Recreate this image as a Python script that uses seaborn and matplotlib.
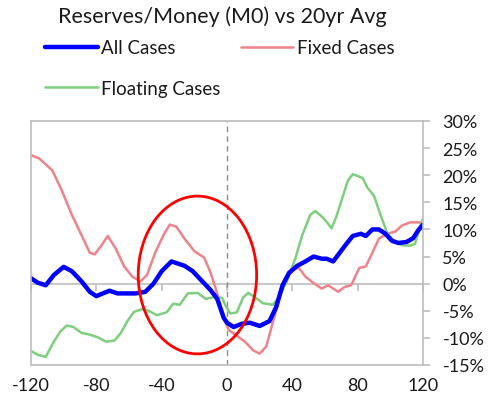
import numpy as np
import pandas as pd
import matplotlib
matplotlib.use("Agg")
import matplotlib.pyplot as plt
from matplotlib.patches import Ellipse
from matplotlib.ticker import FuncFormatter, FixedLocator
import seaborn as sns

# ---- data (months relative to event, % deviation vs 20yr avg) ----
fixed_x = [-120, -115, -107, -101, -95, -89, -84, -81, -77, -73, -68, -63, -58, -53, -49, -44,
           -39, -35, -31, -26, -20, -14, -10, -6, -2, 1, 5, 11, 16, 20, 24, 30, 35, 40, 44, 48,
           53, 58, 62, 68, 72, 76, 81, 85, 89, 93, 98, 103, 107, 112, 118, 120]
fixed_y = [23.7, 23.1, 20.9, 17.1, 12.7, 8.9, 5.7, 5.4, 7.0, 8.8, 6.4, 3.2, 1.3, 0.4, 1.6, 5.7,
           8.9, 10.9, 10.5, 8.3, 6.0, 4.8, 2.0, -1.8, -6.3, -8.5, -9.4, -10.7, -12.3, -12.9, -11.6,
           -5.0, 0.7, 2.6, 2.9, 1.3, 0.1, -0.9, -0.3, -1.5, -0.6, -0.3, 2.9, 3.2, 5.7, 8.3, 9.2,
           9.6, 10.7, 11.3, 11.3, 10.8]

all_x = [-120, -116, -111, -106, -100, -95, -89, -84, -80, -76, -72, -67, -62, -56, -50, -45,
         -40, -34, -30, -26, -21, -16, -10, -6, -2, 0, 4, 9, 14, 20, 26, 30, 34, 38, 43, 48, 53,
         58, 61, 65, 69, 73, 77, 82, 85, 89, 93, 97, 101, 105, 110, 114, 117, 120]
all_y = [1.0, 0.2, -0.3, 1.6, 3.1, 2.3, 0.4, -1.5, -2.3, -1.8, -1.3, -1.8, -1.8, -1.8, -1.5, 0.0,
         2.3, 4.1, 3.7, 3.3, 2.3, 0.7, -1.2, -2.8, -6.3, -7.2, -8.0, -7.4, -7.2, -7.8, -6.9, -4.4,
         -0.3, 2.0, 3.3, 4.1, 5.0, 4.6, 4.6, 4.1, 5.7, 7.3, 8.8, 9.2, 8.8, 10.0, 10.0, 9.2, 7.9,
         7.5, 7.7, 8.4, 9.8, 10.9]

float_x = [-120, -116, -111, -106, -102, -98, -94, -89, -84, -79, -74, -69, -65, -61, -57, -52,
           -48, -43, -37, -33, -29, -24, -18, -13, -8, -3, -1, 2, 6, 10, 13, 17, 22, 28, 32, 37,
           42, 46, 51, 54, 58, 61, 64, 67, 71, 74, 77, 83, 86, 90, 94, 98, 102, 107, 112, 115,
           118, 120]
float_y = [-12.4, -13.1, -13.5, -10.7, -8.8, -7.7, -8.0, -9.1, -9.4, -9.9, -10.7, -10.5, -9.1,
           -6.9, -5.2, -4.7, -5.0, -5.8, -5.3, -3.7, -3.9, -1.8, -1.7, -2.8, -2.5, -2.6, -4.0,
           -5.5, -5.3, -2.5, -1.7, -2.5, -3.6, -3.9, -2.5, 0.7, 4.8, 8.9, 12.7, 13.4, 12.4, 11.4,
           10.2, 12.4, 16.2, 19.0, 20.2, 19.5, 17.7, 16.2, 12.7, 9.4, 7.9, 7.1, 7.0, 7.3, 10.2, 12.0]

series_names = ["All Cases", "Fixed Cases", "Floating Cases"]
x_ticks = [-120, -80, -40, 0, 40, 80, 120]
y_ticks = [-15, -10, -5, 0, 5, 10, 15, 20, 25, 30]
title = "Reserves/Money (M0) vs 20yr Avg"

# circled region (annotation)
circle_center = (-18.1, 1.6)
circle_w, circle_h = 72.5, 29.1

# ---- style ----
sns.set_theme(style="white")
plt.rcParams["font.family"] = ["Lato", "DejaVu Sans"]
plt.rcParams["axes.unicode_minus"] = False

colors = {"All Cases": "#0000FF", "Fixed Cases": "#F0828A", "Floating Cases": "#7DCF7D"}
widths = {"All Cases": 3.2, "Fixed Cases": 1.8, "Floating Cases": 1.8}
grey = "#BDBDBD"
text_c = "#1a1a1a"

frames = []
for name, xs, ys in [("Fixed Cases", fixed_x, fixed_y),
                     ("Floating Cases", float_x, float_y),
                     ("All Cases", all_x, all_y)]:
    frames.append(pd.DataFrame({"month": xs, "value": ys, "series": name}))
df = pd.concat(frames, ignore_index=True)

fig = plt.figure(figsize=(4.9, 4.1), dpi=100)
ax = fig.add_axes([31 / 490, 1 - 366 / 410, 392 / 490, 244 / 410])

handles = {}
for name in ["Fixed Cases", "Floating Cases", "All Cases"]:
    sub = df[df["series"] == name]
    sns.lineplot(data=sub, x="month", y="value", ax=ax, color=colors[name],
                 linewidth=widths[name], label=name, sort=False, estimator=None)
for line in ax.get_lines():
    line.set_solid_joinstyle("round")
    line.set_solid_capstyle("round")
    handles[line.get_label()] = line
if ax.get_legend():
    ax.get_legend().remove()

ax.set_xlim(-120, 120)
ax.set_ylim(-15, 30)
ax.set_xlabel("")
ax.set_ylabel("")

# vertical dashed line at event
ax.axvline(0, color="#8C8C8C", lw=1.0, ls=(0, (4, 3)), zorder=1)

# ellipse highlight
ax.add_patch(Ellipse(circle_center, circle_w, circle_h, fill=False,
                     edgecolor="#FF0000", lw=2.0, zorder=5))

# spines
for s in ax.spines.values():
    s.set_color(grey)
    s.set_linewidth(1.2)

# y axis on right
ax.yaxis.tick_right()
ax.yaxis.set_major_locator(FixedLocator(y_ticks))
ax.yaxis.set_major_formatter(FuncFormatter(lambda v, p: f"{v:.0f}%"))
ax.tick_params(axis="y", which="major", right=True, left=False, length=5, width=1.2,
               color=grey, labelsize=13, pad=9, labelcolor=text_c)

# x axis labels at bottom, no ticks
ax.xaxis.set_major_locator(FixedLocator(x_ticks))
ax.tick_params(axis="x", which="major", bottom=False, length=0, labelsize=13, pad=9,
               labelcolor=text_c)

# zero line with ticks
zero_ax = ax.secondary_xaxis(15 / 45)
zero_ax.set_xticks(x_ticks)
zero_ax.tick_params(axis="x", direction="out", length=5, width=1.2, color=grey,
                    labelbottom=False, labeltop=False, bottom=True, top=False)
zero_ax.spines["bottom"].set_color(grey)
zero_ax.spines["bottom"].set_linewidth(1.2)
zero_ax.spines["top"].set_visible(False)

fig.text(222 / 490, 1 - 17 / 410, title, ha="center", va="center", fontsize=15.5,
         color=text_c)

order = ["All Cases", "Floating Cases", "Fixed Cases"]
leg = fig.legend([handles[n] for n in order], order, loc="upper left",
                 bbox_to_anchor=(45 / 490, 1 - 40.5 / 410), ncol=2, frameon=False,
                 fontsize=13.5, handlelength=2.8, handletextpad=0.21, borderpad=0,
                 borderaxespad=0, labelspacing=1.25, columnspacing=1.07)
for t in leg.get_texts():
    t.set_color(text_c)

fig.savefig("out.png", dpi=100)
